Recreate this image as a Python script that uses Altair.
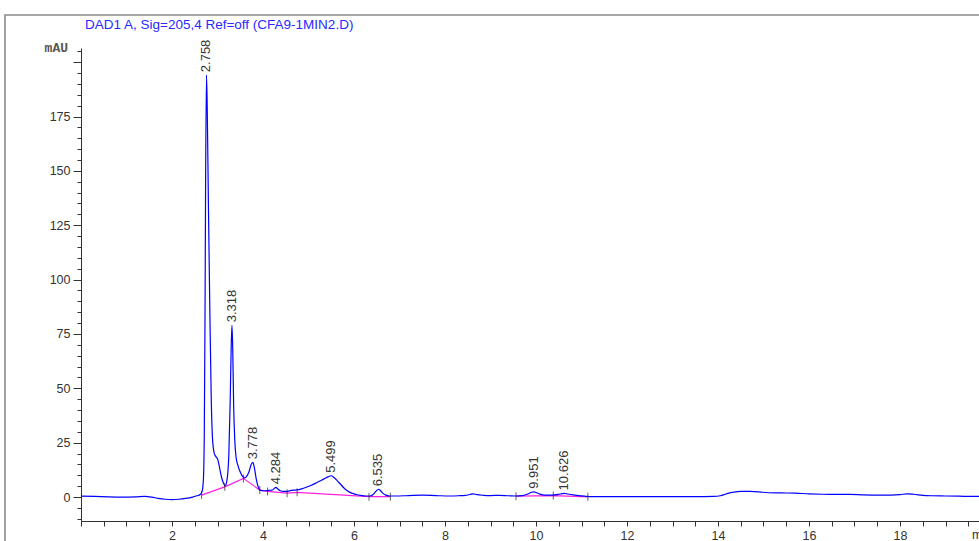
import altair as alt
import pandas as pd

# Detector trace: retention time (min) and signal (mAU)
times = [
    0.00, 0.30, 0.60, 0.90, 1.20, 1.40, 1.55, 1.70, 1.85, 2.00, 2.15, 2.30, 2.45, 2.55,
    2.62, 2.66, 2.69, 2.71, 2.725, 2.74, 2.758, 2.775, 2.80, 2.83, 2.86, 2.89, 2.93,
    2.97, 3.01, 3.05, 3.09, 3.13, 3.17, 3.21, 3.25, 3.28, 3.30, 3.318, 3.335, 3.355,
    3.38, 3.41, 3.45, 3.50, 3.55, 3.60, 3.64, 3.69, 3.74, 3.778, 3.81, 3.85, 3.89,
    3.93, 3.98, 4.05, 4.12, 4.20, 4.25, 4.284, 4.32, 4.38, 4.45, 4.53, 4.60, 4.68,
    4.75, 4.85, 4.95, 5.05, 5.15, 5.25, 5.35, 5.43, 5.499, 5.56, 5.63, 5.70, 5.78,
    5.86, 5.95, 6.05, 6.15, 6.25, 6.35, 6.42, 6.48, 6.535, 6.58, 6.63, 6.70, 6.78,
    6.90, 7.10, 7.30, 7.50, 7.70, 7.90, 8.10, 8.30, 8.45, 8.55, 8.62, 8.70, 8.85,
    9.00, 9.20, 9.40, 9.56, 9.70, 9.82, 9.90, 9.951, 10.00, 10.08, 10.18, 10.30,
    10.40, 10.50, 10.58, 10.626, 10.70, 10.82, 10.95, 11.10, 11.25, 11.60, 12.00,
    12.50, 13.00, 13.50, 13.90, 14.05, 14.20, 14.35, 14.50, 14.70, 14.90, 15.10,
    15.40, 15.70, 16.00, 16.30, 16.60, 16.90, 17.20, 17.50, 17.80, 18.00, 18.15,
    18.30, 18.50, 18.70, 19.00, 19.30, 19.60, 20.00,
]
signal = [
    0.4, 0.3, 0.1, 0.0, 0.1, 0.3, 0.0, -0.6, -1.0, -1.2, -1.0, -0.6, 0.0, 0.6,
    1.2, 2.5, 8.0, 30.0, 80.0, 150.0, 194.0, 178.0, 135.0, 88.0, 48.0, 27.0, 20.0,
    18.5, 17.0, 13.0, 9.0, 6.5, 5.2, 8.0, 20.0, 45.0, 68.0, 79.0, 68.0, 42.0,
    26.0, 18.0, 14.5, 11.5, 9.5, 8.8, 9.5, 11.5, 15.0, 16.0, 13.5, 8.5, 5.0,
    3.3, 3.0, 2.9, 3.1, 3.2, 4.0, 4.5, 3.8, 2.9, 2.6, 2.6, 3.0, 3.2,
    3.3, 3.8, 4.5, 5.3, 6.3, 7.4, 8.5, 9.3, 9.8, 9.0, 7.6, 6.0, 4.2,
    2.8, 1.8, 1.2, 0.8, 0.5, 0.5, 1.2, 2.6, 3.6, 3.0, 1.8, 0.9, 0.5,
    0.5, 0.6, 0.8, 0.9, 0.8, 0.6, 0.5, 0.6, 0.8, 1.2, 1.5, 1.1, 0.8,
    0.7, 0.8, 0.6, 0.5, 0.7, 1.4, 2.2, 2.4, 2.1, 1.4, 0.9, 0.9,
    1.0, 1.3, 1.6, 1.7, 1.4, 1.0, 0.7, 0.3, 0.2, 0.2, 0.2,
    0.2, 0.2, 0.2, 0.3, 0.6, 1.6, 2.3, 2.6, 2.6, 2.4, 2.0,
    1.9, 1.8, 1.5, 1.3, 1.2, 1.2, 1.0, 0.9, 0.9, 1.1, 1.5,
    1.3, 0.8, 0.6, 0.5, 0.4, 0.3, 0.3,
]

# Integration baselines (two groups) and their event marks
base1_t = [2.65, 3.16, 3.57, 3.93, 4.10, 4.53, 4.75, 6.33, 6.80]
base1_v = [0.9, 4.7, 8.6, 3.2, 2.6, 1.8, 2.2, 0.2, 0.2]
base2_t = [9.56, 10.38, 11.14]
base2_v = [0.4, 0.7, 0.1]

# Labelled peaks (retention times)
peak_times = [2.758, 3.318, 3.778, 4.284, 5.499, 6.535, 9.951, 10.626]

title_text = "DAD1 A, Sig=205,4 Ref=off (CFA9-1MIN2.D)"
y_unit = "mAU"
x_unit = "min"

trace = pd.DataFrame({"t": times, "v": signal})
base = pd.DataFrame({
    "t": base1_t + base2_t,
    "v": base1_v + base2_v,
    "grp": ["a"] * len(base1_t) + ["b"] * len(base2_t),
})
lookup = dict(zip(times, signal))
peaks = pd.DataFrame({
    "t": peak_times,
    "v": [lookup[t] for t in peak_times],
    "lab": [f"{t:.3f}" for t in peak_times],
})

PX_PER_MIN = 45.5
W = 898
H = 473
x_max = W / PX_PER_MIN
y_dom = [-11, 206.5]

FONT = "Liberation Sans"
AX = "#333333"

x_axis = alt.Axis(
    values=[i * 0.5 for i in range(0, 40)],
    tickCount=500,
    labelExpr="datum.value % 2 === 0 && datum.value > 0 ? '' + datum.value : ''",
    tickSize=5, labelPadding=3, labelFont=FONT, labelFontSize=12.5,
    labelColor=AX, domainColor=AX, tickColor=AX, grid=False, title=None,
    labelFlush=False, labelOverlap=False,
)
y_axis = alt.Axis(
    values=list(range(-10, 206, 5)),
    tickCount=500,
    labelExpr="datum.value % 25 === 0 && datum.value >= 0 && datum.value <= 175 ? '' + datum.value : ''",
    tickSize={"condition": {"test": "datum.value % 25 === 0", "value": 8}, "value": 4},
    labelPadding=3, labelFont=FONT, labelFontSize=12.5,
    labelColor=AX, domainColor=AX, tickColor=AX, grid=False, title=None,
    labelOverlap=False,
)

xs = alt.Scale(domain=[0, x_max], nice=False, zero=False)
ys = alt.Scale(domain=y_dom, nice=False, zero=False)

line = alt.Chart(trace).mark_line(color="#0000ff", strokeWidth=1.2, interpolate="monotone").encode(
    x=alt.X("t:Q", scale=xs, axis=x_axis),
    y=alt.Y("v:Q", scale=ys, axis=y_axis),
)

baseline = alt.Chart(base).mark_line(color="#ff22dd", strokeWidth=1.2).encode(
    x=alt.X("t:Q", scale=xs), y=alt.Y("v:Q", scale=ys), detail="grp:N"
)

events = alt.Chart(base).mark_tick(orient="vertical", size=8, thickness=1, color="#222222").encode(
    x=alt.X("t:Q", scale=xs), y=alt.Y("v:Q", scale=ys)
)

labels = alt.Chart(peaks).mark_text(
    angle=270, align="left", baseline="middle", dx=3, font=FONT, fontSize=13, color="#333333"
).encode(x=alt.X("t:Q", scale=xs), y=alt.Y("v:Q", scale=ys), text="lab:N")

one = pd.DataFrame({"k": [0]})

frame = alt.Chart(one).mark_rect(fillOpacity=0, stroke="#8a8a8a", strokeWidth=1.6).encode(
    x=alt.value(-76), x2=alt.value(1200), y=alt.value(-33), y2=alt.value(800)
)

title = alt.Chart(one).mark_text(
    align="left", baseline="middle", font=FONT, fontSize=13.5, color="#2a2aff"
).encode(x=alt.value(4), y=alt.value(-23), text=alt.value(title_text))

unit_y = alt.Chart(one).mark_text(
    align="right", baseline="middle", font="Liberation Mono", fontSize=13,
    fontWeight="bold", color="#5a5550"
).encode(x=alt.value(-13), y=alt.value(0), text=alt.value(y_unit))

unit_x = alt.Chart(one).mark_text(
    align="left", baseline="top", font=FONT, fontSize=12.5, color=AX
).encode(x=alt.value(891), y=alt.value(H + 8), text=alt.value(x_unit))

chart = alt.layer(frame, baseline, line, events, labels, title, unit_y, unit_x).properties(
    width=W, height=H,
    autosize=alt.AutoSizeParams(type="none"),
    padding={"left": 81, "top": 48, "right": 0, "bottom": 20},
    background="white",
).configure_view(stroke=None)

chart.save("out.html", embed_options={"renderer": "svg", "actions": False})
